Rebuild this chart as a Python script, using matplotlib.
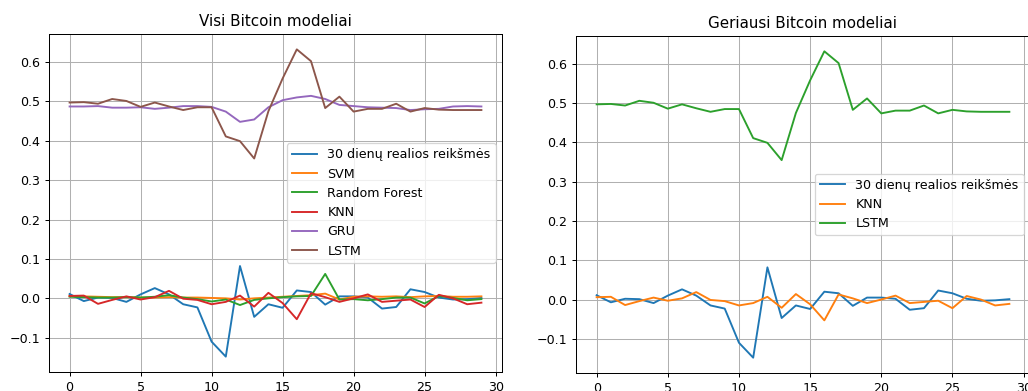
import numpy as np
import matplotlib
matplotlib.use("Agg")
import matplotlib.pyplot as plt

days = list(range(30))

real = [0.011, -0.007, 0.002, 0.001, -0.009, 0.010, 0.026, 0.010, -0.015, -0.023,
        -0.110, -0.148, 0.082, -0.047, -0.015, -0.024, 0.020, 0.016, -0.016, 0.005,
        0.005, 0.002, -0.026, -0.022, 0.023, 0.016, 0.002, -0.003, -0.002, 0.001]

svm = [0.006, 0.005, 0.004, 0.003, 0.003, 0.002, 0.002, 0.003, 0.002, 0.002,
       0.001, 0.000, -0.003, 0.000, 0.002, 0.004, 0.006, 0.008, 0.012, -0.003,
       0.004, 0.005, 0.004, 0.005, 0.003, 0.005, 0.006, 0.004, 0.004, 0.005]

random_forest = [0.004, 0.003, 0.002, 0.002, 0.003, 0.002, 0.004, 0.008, 0.002, -0.002,
                 -0.008, -0.003, -0.017, -0.004, 0.000, 0.003, 0.005, 0.006, 0.062, -0.003,
                 -0.002, -0.005, -0.002, 0.002, 0.002, -0.013, 0.006, 0.001, -0.005, -0.002]

knn = [0.006, 0.007, -0.014, -0.004, 0.005, -0.003, 0.003, 0.019, -0.001, -0.004,
       -0.015, -0.009, 0.007, -0.021, 0.014, -0.012, -0.053, 0.013, 0.003, -0.009,
       0.000, 0.010, -0.009, -0.006, -0.003, -0.022, 0.009, 0.000, -0.015, -0.011]

gru = [0.487, 0.487, 0.488, 0.484, 0.484, 0.485, 0.481, 0.484, 0.488, 0.488,
       0.486, 0.474, 0.448, 0.454, 0.485, 0.503, 0.510, 0.514, 0.506, 0.491,
       0.488, 0.485, 0.484, 0.483, 0.478, 0.480, 0.481, 0.487, 0.488, 0.487]

lstm = [0.497, 0.498, 0.494, 0.506, 0.501, 0.486, 0.497, 0.487, 0.478, 0.485,
        0.485, 0.411, 0.399, 0.355, 0.475, 0.558, 0.632, 0.602, 0.483, 0.512,
        0.474, 0.481, 0.481, 0.494, 0.474, 0.483, 0.479, 0.478, 0.478, 0.478]

real_label = "30 dienų realios reikšmės"

DPI = 91
W, H = 1028, 391
fig = plt.figure(figsize=(W / DPI, H / DPI), dpi=DPI)
ax1 = fig.add_axes([49 / W, 1 - 372 / H, (502 - 49) / W, (372 - 34) / H])
ax2 = fig.add_axes([576 / W, 1 - 373 / H, (1030 - 576) / W, (373 - 36) / H])

ax1.plot(days, real, label=real_label)
ax1.plot(days, svm, label="SVM")
ax1.plot(days, random_forest, label="Random Forest")
ax1.plot(days, knn, label="KNN")
ax1.plot(days, gru, label="GRU")
ax1.plot(days, lstm, label="LSTM")
ax1.set_title("Visi Bitcoin modeliai")
ax1.grid(True)
ax1.legend(loc="center right")

ax2.plot(days, real, label=real_label)
ax2.plot(days, knn, label="KNN")
ax2.plot(days, lstm, label="LSTM")
ax2.set_title("Geriausi Bitcoin modeliai")
ax2.grid(True)
ax2.legend(loc="center right")

for ax in (ax1, ax2):
    ax.set_xticks([0, 5, 10, 15, 20, 25, 30])

fig.savefig("out.png", dpi=DPI)
